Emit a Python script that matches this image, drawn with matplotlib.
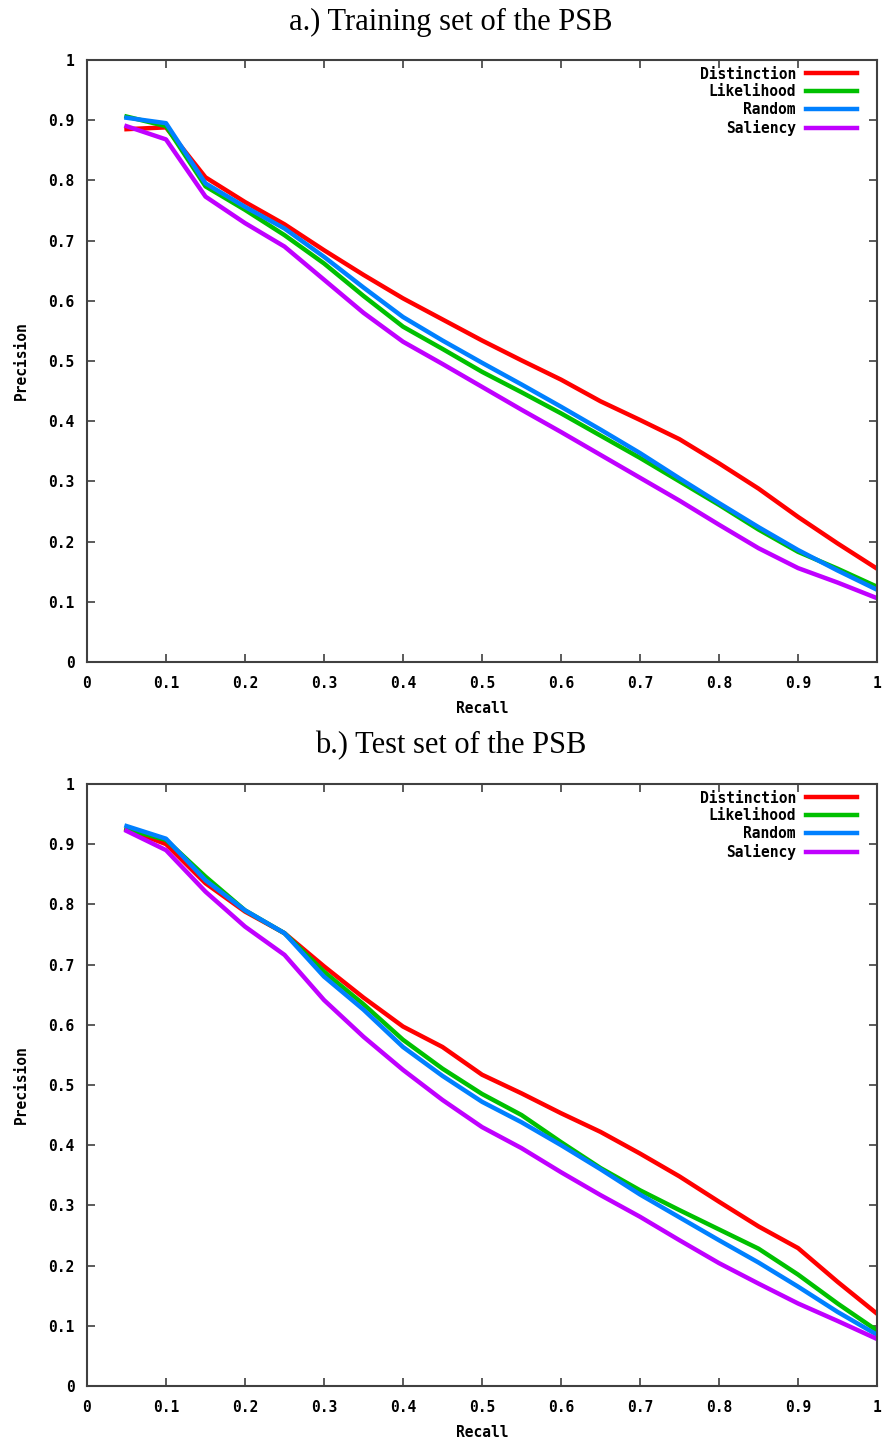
import matplotlib
matplotlib.use('Agg')
import matplotlib.pyplot as plt
import numpy as np

recall = [0.05, 0.1, 0.15, 0.2, 0.25, 0.3, 0.35, 0.4, 0.45, 0.5,
          0.55, 0.6, 0.65, 0.7, 0.75, 0.8, 0.85, 0.9, 0.95, 1.0]

# a.) training set
train_distinction = [0.885, 0.888, 0.805, 0.764, 0.727, 0.684, 0.643, 0.604, 0.569, 0.534,
                     0.501, 0.469, 0.433, 0.402, 0.370, 0.330, 0.288, 0.241, 0.197, 0.155]
train_likelihood = [0.906, 0.890, 0.790, 0.751, 0.709, 0.662, 0.608, 0.557, 0.520, 0.482,
                    0.448, 0.413, 0.376, 0.339, 0.300, 0.261, 0.220, 0.183, 0.155, 0.125]
train_random = [0.904, 0.895, 0.795, 0.756, 0.720, 0.673, 0.622, 0.573, 0.534, 0.497,
                0.461, 0.424, 0.386, 0.347, 0.305, 0.264, 0.224, 0.186, 0.152, 0.120]
train_saliency = [0.890, 0.868, 0.773, 0.729, 0.690, 0.635, 0.580, 0.532, 0.495, 0.457,
                  0.419, 0.382, 0.344, 0.306, 0.268, 0.228, 0.189, 0.156, 0.132, 0.106]

# b.) test set
test_distinction = [0.925, 0.900, 0.835, 0.788, 0.752, 0.697, 0.645, 0.597, 0.563, 0.517,
                    0.486, 0.453, 0.422, 0.386, 0.348, 0.306, 0.265, 0.229, 0.173, 0.120]
test_likelihood = [0.925, 0.907, 0.846, 0.790, 0.752, 0.688, 0.634, 0.575, 0.527, 0.485,
                   0.450, 0.405, 0.362, 0.325, 0.292, 0.260, 0.228, 0.185, 0.137, 0.092]
test_random = [0.930, 0.909, 0.840, 0.790, 0.752, 0.680, 0.625, 0.563, 0.515, 0.472,
               0.438, 0.400, 0.360, 0.318, 0.280, 0.242, 0.205, 0.165, 0.123, 0.085]
test_saliency = [0.922, 0.890, 0.821, 0.763, 0.716, 0.641, 0.580, 0.525, 0.475, 0.430,
                 0.395, 0.355, 0.317, 0.281, 0.242, 0.204, 0.170, 0.137, 0.108, 0.078]

series_names = ['Distinction', 'Likelihood', 'Random', 'Saliency']
colors = ['#ff0000', '#00c000', '#0080ff', '#c000ff']
ticks = [0, 0.1, 0.2, 0.3, 0.4, 0.5, 0.6, 0.7, 0.8, 0.9, 1]
tick_labels = ['0', '0.1', '0.2', '0.3', '0.4', '0.5', '0.6', '0.7', '0.8', '0.9', '1']

mono = 'DejaVu Sans Mono'
fs = 10.5


def draw_panel(ax, data):
    for name, vals, c in zip(series_names, data, colors):
        ax.plot(recall, vals, color=c, lw=3.2, label=name)
    ax.set_xlim(0, 1)
    ax.set_ylim(0, 1)
    ax.set_xticks(ticks)
    ax.set_yticks(ticks)
    ax.set_xticklabels(tick_labels, family=mono, weight='bold', fontsize=fs)
    ax.set_yticklabels(tick_labels, family=mono, weight='bold', fontsize=fs)
    ax.tick_params(direction='in', length=6, width=1.2, color='#404040',
                   top=True, right=True)
    ax.tick_params(axis='x', pad=10)
    ax.tick_params(axis='y', pad=9)
    for s in ax.spines.values():
        s.set_color('#404040')
        s.set_linewidth(1.5)
    ax.set_xlabel('Recall', family=mono, weight='bold', fontsize=fs, labelpad=7)
    ax.set_ylabel('Precision', family=mono, weight='bold', fontsize=fs, labelpad=14)
    leg = ax.legend(loc='upper right', bbox_to_anchor=(0.9747, 0.989),
                    markerfirst=False, frameon=False,
                    handlelength=3.5, handletextpad=0.7, labelspacing=0.2,
                    borderaxespad=0, borderpad=0,
                    prop={'family': mono, 'weight': 'bold', 'size': fs})
    for t in leg.get_texts():
        t.set_ha('right')


fig = plt.figure(figsize=(8.85, 14.41), dpi=100)
ax1 = fig.add_axes([0.0983, 0.5406, 0.8927, 0.4178])
ax2 = fig.add_axes([0.0983, 0.0382, 0.8927, 0.4178])

draw_panel(ax1, [train_distinction, train_likelihood, train_random, train_saliency])
draw_panel(ax2, [test_distinction, test_likelihood, test_random, test_saliency])

fig.text(451 / 885, 1 - 22 / 1441, 'a.) Training set of the PSB',
         family='Liberation Serif', fontsize=22, ha='center', va='center')
fig.text(451 / 885, 1 - 746 / 1441, 'b.) Test set of the PSB',
         family='Liberation Serif', fontsize=22, ha='center', va='center')

fig.savefig('out.png', dpi=100)
